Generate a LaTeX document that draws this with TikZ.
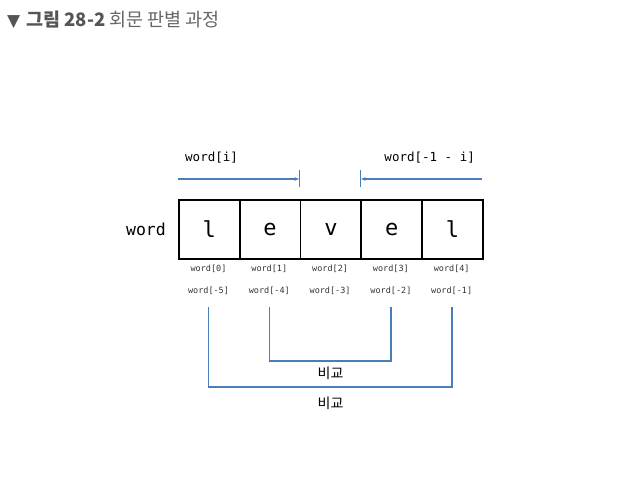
\documentclass[tikz,border=0pt]{standalone}
\usepackage{fontspec}
\setmainfont{Liberation Sans}
\setmonofont{DejaVu Sans Mono}
\newfontfamily\krfont{Noto Sans CJK KR}
\newfontfamily\symfont{DejaVu Sans}
\usetikzlibrary{arrows.meta}
\definecolor{lineblue}{HTML}{4A7EBB}
\definecolor{titlegray}{HTML}{555555}
\definecolor{titlegraylight}{HTML}{666666}
\begin{document}
\begin{tikzpicture}[x=1bp,y=-1bp,
  cell/.style={draw=black,line width=1.6bp,minimum width=61bp,minimum height=59bp,inner sep=0,anchor=north west,font=\ttfamily\fontsize{22bp}{24bp}\selectfont},
  idx/.style={font=\ttfamily\fontsize{8.5bp}{10bp}\selectfont,inner sep=0,text=black!80},
  blueline/.style={draw=lineblue,line width=1.6bp},
  tip/.style={-{Latex[length=5bp,width=4bp]}}]
\useasboundingbox (0,0) rectangle (618,494);
% title
\node[anchor=west,inner sep=0,text=titlegray] (title) at (7,20)
  {{\symfont\fontsize{17bp}{19bp}\selectfont ▼}\hspace{6bp}{\krfont\fontsize{18.5bp}{21bp}\selectfont\bfseries 그림 28-2}\hspace{4bp}{\color{titlegraylight}\krfont\fontsize{18.5bp}{21bp}\selectfont 회문 판별 과정}};
% cells
\foreach \i/\ch in {0/l,1/e,2/v,3/e,4/l}{
  \node[cell] (c\i) at ({178+60.8*\i},199) {\ch};
}
\node[anchor=east,inner sep=0,font=\ttfamily\fontsize{16.5bp}{18bp}\selectfont] (wlab) at (166,229) {word};
% index labels
\foreach \i/\a/\b in {0/0/-5,1/1/-4,2/2/-3,3/3/-2,4/4/-1}{
  \node[idx] (p\i) at ({208.5+60.8*\i},269) {word[\a]};
  \node[idx] (n\i) at ({208.5+60.8*\i},291) {word[\b]};
}
% top arrows
\node[anchor=west,inner sep=0,font=\ttfamily\fontsize{12.5bp}{14bp}\selectfont] (li) at (185,158) {word[i]};
\node[anchor=east,inner sep=0,font=\ttfamily\fontsize{12.5bp}{14bp}\selectfont] (ri) at (475,158) {word[-1 - i]};
\coordinate (la) at (178,179);
\coordinate (lb) at (c2.north west |- la);
\coordinate (ra) at (482,179);
\coordinate (rb) at (c3.north west |- ra);
\draw[blueline,tip] (la) -- (lb);
\draw[blueline,tip] (ra) -- (rb);
\draw[draw=lineblue,line width=1.2bp] ([yshift=-8.5bp]lb) -- ([yshift=8.5bp]lb);
\draw[draw=lineblue,line width=1.2bp] ([yshift=-8.5bp]rb) -- ([yshift=8.5bp]rb);
% brackets
\coordinate (i1) at (n1.south |- 0,307);
\coordinate (i3) at (n3.south |- 0,307);
\coordinate (o0) at (n0.south |- 0,307);
\coordinate (o4) at (n4.south |- 0,307);
\draw[blueline] (i1) -- (i1 |- 0,361) -- (i3 |- 0,361) -- (i3);
\draw[blueline] (o0) -- (o0 |- 0,387) -- (o4 |- 0,387) -- (o4);
\node[inner sep=0,font=\krfont\fontsize{14bp}{16bp}\selectfont] (cmp1) at (330.5,373) {비교};
\node[inner sep=0,font=\krfont\fontsize{14bp}{16bp}\selectfont] (cmp2) at (330.5,403) {비교};
\end{tikzpicture}
\end{document}
